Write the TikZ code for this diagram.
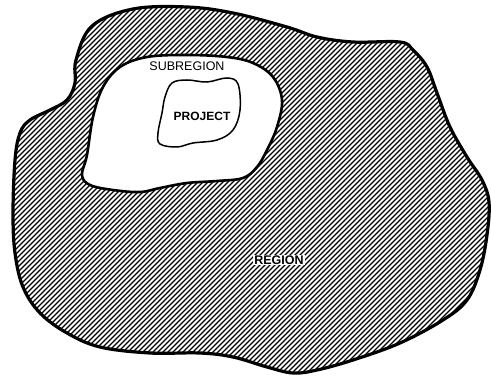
\documentclass[tikz,border=0pt]{standalone}
\usepackage{fontspec}
\setmainfont{Liberation Sans}
\usepackage{tikz}
\usetikzlibrary{calc, positioning}

\begin{document}
\begin{tikzpicture}[x=1pt, y=-1pt,
    hatch/.style={line width=1.1pt},
    rim/.style={line width=3.2pt, line join=round},
    label/.style={font=\fontsize{12.5}{14}\selectfont, inner sep=1pt}]
    \useasboundingbox (0,0) rectangle (491,385);

    % Vùng lớn (region)
    \def\outer{plot[smooth cycle, tension=0.6] coordinates {
        (76,60) (92,26) (133,9) (187,7) (233,13) (287,27) (317,37)
        (353,42) (400,42) (413,50) (427,67) (437,93) (450,127)
        (467,157) (482,180) (489,202) (487,235) (480,270) (467,300)
        (443,320) (400,343) (353,360) (317,370) (293,373) (267,367)
        (233,357) (200,353) (150,353) (100,347) (67,333) (40,313)
        (23,287) (15,253) (13,213) (15,160) (20,133) (30,120)
        (50,110) (67,100) (75,83)}}

    % Gạch chéo
    \begin{scope}
        \clip \outer;
        \foreach \c in {0,5,...,900} {
            \draw[hatch] (\c,0) -- (0,\c);
        }
    \end{scope}

    % Vùng con (subregion)
    \draw[line width=2.6pt, fill=white, line join=round]
        plot[smooth cycle, tension=0.6] coordinates {
        (82,175) (87,155) (93,117) (103,87) (120,67) (147,57) (187,55)
        (227,57) (253,63) (273,77) (282,100) (277,127) (267,150)
        (257,167) (243,178) (217,181) (187,183) (160,188) (140,192)
        (113,190) (90,185)};

    % Dự án (project)
    \draw[line width=1.5pt]
        plot[smooth cycle, tension=0.6] coordinates {
        (165,97) (172,83) (187,80) (207,82) (227,78) (238,84)
        (240,110) (233,130) (217,140) (193,143) (177,147) (160,144)
        (158,133) (162,113)};

    % Viền ngoài
    \draw[rim] \outer;

    % Nhãn
    \node[label] (sub) at (187,66) {SUBREGION};
    \node[label, font=\fontsize{12}{14}\selectfont\bfseries] (proj) at (202,116) {PROJECT};
    \node[label, fill=white, font=\fontsize{12.5}{14}\selectfont\bfseries] (reg) at (279,260) {REGION};
\end{tikzpicture}
\end{document}
